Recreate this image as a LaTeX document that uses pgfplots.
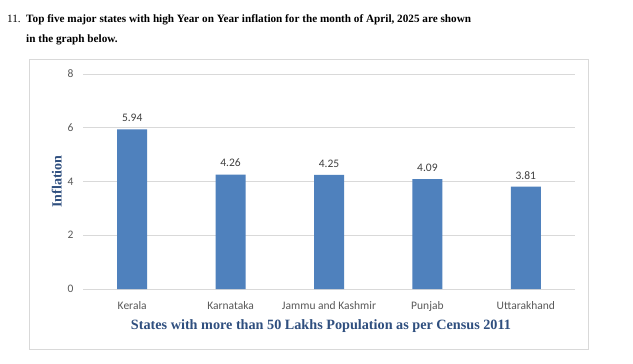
\documentclass[border=0pt]{standalone}
\usepackage{fontspec}
\setmainfont{Liberation Serif}
\newfontfamily\calibri{Carlito}
\usepackage{pgfplots}
\pgfplotsset{compat=1.18}
\definecolor{barblue}{HTML}{4F81BD}
\definecolor{gridgray}{HTML}{D9D9D9}
\definecolor{ticktext}{HTML}{595959}
\definecolor{labtext}{HTML}{404040}
\definecolor{axtitle}{HTML}{2F4F7F}
\begin{document}
\begin{tikzpicture}[x=1bp,y=1bp]
\useasboundingbox[fill=white] (0,0) rectangle (633,363);
% title
\node[anchor=base west,inner sep=0,font=\fontsize{11.2bp}{13bp}\selectfont] at (7,363-22) {11.};
\node[anchor=base west,inner sep=0,font=\bfseries\fontsize{11.2bp}{13bp}\selectfont] at (26,363-22) {Top five major states with high Year on Year inflation for the month of April, 2025 are shown};
\node[anchor=base west,inner sep=0,font=\bfseries\fontsize{11.2bp}{13bp}\selectfont] at (26,363-42) {in the graph below.};
% frame
\draw[color=gridgray,line width=0.8bp] (29,363-349) rectangle (588,363-59);
\begin{axis}[
  at={(83bp,74bp)}, anchor=south west,
  scale only axis,
  width=492bp, height=215bp,
  xmin=-0.5, xmax=4.5,
  ymin=0, ymax=8,
  ytick={0,2,4,6,8},
  xtick=data,
  xticklabels={Kerala,Karnataka,Jammu and Kashmir,Punjab,Uttarakhand},
  axis line style={draw=none},
  ymajorgrids,
  grid style={color=gridgray,line width=0.8bp},
  major tick length=0pt,
  tick label style={font=\calibri\fontsize{11.5bp}{13bp}\selectfont,text=ticktext},
  /pgf/number format/assume math mode=true,
  yticklabel style={xshift=-6bp},
  xticklabel style={yshift=-9bp},
  ybar, bar width=30bp,
  nodes near coords,
  nodes near coords style={font=\calibri\fontsize{11.5bp}{13bp}\selectfont,text=labtext,yshift=4bp,
    /pgf/number format/.cd,fixed,precision=2,fixed zerofill},
  ylabel={Inflation},
  ylabel style={font=\bfseries\fontsize{14bp}{16bp}\selectfont,text=axtitle,yshift=-1bp},
  xlabel={States with more than 50 Lakhs Population as per Census 2011},
  xlabel style={font=\bfseries\fontsize{14.2bp}{16bp}\selectfont,text=axtitle,yshift=-1bp,xshift=-8bp},
  clip=false,
]
\addplot[fill=barblue,draw=none] coordinates {(0,5.94) (1,4.26) (2,4.25) (3,4.09) (4,3.81)};
\end{axis}
\end{tikzpicture}
\end{document}
